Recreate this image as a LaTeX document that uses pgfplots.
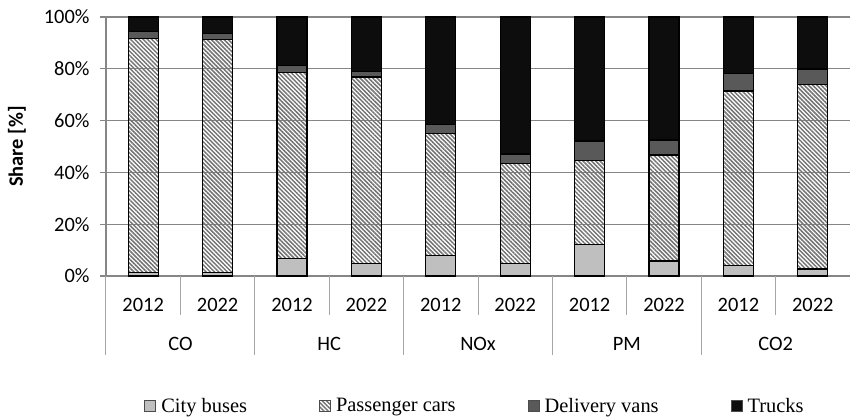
\documentclass[border=0pt]{standalone}
\usepackage{fontspec}
\setmainfont{Liberation Serif}
\newfontfamily\calibri{Carlito}
\usepackage{pgfplots}
\usepackage{pgfplotstable}
\pgfplotsset{compat=1.18}
\usetikzlibrary{patterns.meta}
\definecolor{busc}{HTML}{BFBFBF}
\definecolor{vanc}{HTML}{595959}
\definecolor{truckc}{HTML}{0D0D0D}
\definecolor{gridc}{HTML}{868686}
\definecolor{sepc}{HTML}{A6A6A6}

\pgfplotstableread{
x buses cars vans trucks
0 1.5 90.3 2.5 5.7
1 1.3 90.1 2.2 6.4
2 6.8 71.8 2.6 18.8
3 4.9 71.9 2.2 21.0
4 7.8 47.1 3.5 41.6
5 4.9 38.6 3.6 52.9
6 12.2 32.3 7.6 47.9
7 5.8 40.9 5.8 47.5
8 4.0 67.4 6.7 21.9
9 2.7 71.3 5.9 20.1
}\datatable

\newcommand\axfont{\calibri\fontsize{20.5}{24}\selectfont}

\begin{document}
\begin{tikzpicture}
\begin{axis}[
  name=ax,
  scale only axis,
  width=744bp, height=259bp,
  xmin=-0.5, xmax=9.5,
  ymin=0, ymax=100,
  ybar stacked,
  bar width=30bp,
  clip=false,
  axis x line=bottom,
  axis y line=left,
  axis line style={-, gridc, line width=1.6bp},
  xtick=data,
  xticklabels={2012,2022,2012,2022,2012,2022,2012,2022,2012,2022},
  xtick style={draw=none},
  xticklabel style={anchor=center, yshift=-23bp, font=\axfont},
  ytick={0,20,40,60,80,100},
  yticklabel={\pgfmathprintnumber{\tick}\%},
  yticklabel style={font=\axfont, xshift=-7bp},
  /pgf/number format/assume math mode=true,
  ytick style={gridc, line width=1.2bp},
  tick align=outside,
  major tick length=6bp,
  ymajorgrids,
  grid style={gridc, line width=1.2bp},
  ylabel={\bfseries Share [\%]},
  every axis y label/.style={at={(axis description cs:0,0.5)}, rotate=90, anchor=center, yshift=89bp, font=\axfont},
  legend columns=4,
  legend style={draw=none, fill=none, at={(0.5,0)}, anchor=center, xshift=-3bp, yshift=-130bp,
    font=\fontsize{20.5}{24}\selectfont,
    /tikz/every even column/.append style={column sep=70bp}},
  legend image code/.code={\draw[#1, draw=black!70, line width=0.8bp] (0bp,-5.5bp) rectangle (11bp,5.5bp); \path (14bp,0bp);},
  every axis plot/.append style={draw=black, line width=1.2bp},
]
\addplot[fill=busc] table[x=x, y=buses] {\datatable};
\addplot[pattern={Lines[angle=-45, distance=3bp, line width=1.5bp]}, pattern color=black!55] table[x=x, y=cars] {\datatable};
\addplot[fill=vanc] table[x=x, y=vans] {\datatable};
\addplot[fill=truckc] table[x=x, y=trucks] {\datatable};
\legend{City buses, Passenger cars, Delivery vans, Trucks}

% separators of the category axis
\draw[sepc, line width=1bp] (axis cs:0.5,0) -- ++(0pt,-39bp);
\draw[sepc, line width=1bp] (axis cs:2.5,0) -- ++(0pt,-39bp);
\draw[sepc, line width=1bp] (axis cs:4.5,0) -- ++(0pt,-39bp);
\draw[sepc, line width=1bp] (axis cs:6.5,0) -- ++(0pt,-39bp);
\draw[sepc, line width=1bp] (axis cs:8.5,0) -- ++(0pt,-39bp);
\draw[sepc, line width=1bp] (axis cs:-0.5,0) -- ++(0pt,-79bp);
\draw[sepc, line width=1bp] (axis cs:1.5,0) -- ++(0pt,-79bp);
\draw[sepc, line width=1bp] (axis cs:3.5,0) -- ++(0pt,-79bp);
\draw[sepc, line width=1bp] (axis cs:5.5,0) -- ++(0pt,-79bp);
\draw[sepc, line width=1bp] (axis cs:7.5,0) -- ++(0pt,-79bp);
% group names
\node[font=\axfont] at (axis cs:0.5,0) [yshift=-68bp] {CO};
\node[font=\axfont] at (axis cs:2.5,0) [yshift=-68bp] {HC};
\node[font=\axfont] at (axis cs:4.5,0) [yshift=-68bp] {NOx};
\node[font=\axfont] at (axis cs:6.5,0) [yshift=-68bp] {PM};
\node[font=\axfont] at (axis cs:8.5,0) [yshift=-68bp] {CO2};
\end{axis}
\pgfresetboundingbox
\path ([xshift=-106bp,yshift=-142bp]ax.south west) rectangle ([yshift=17bp]ax.north east);
\end{tikzpicture}
\end{document}
